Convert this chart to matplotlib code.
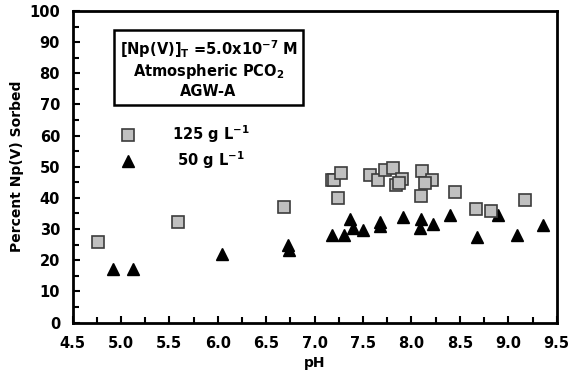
import numpy as np
import matplotlib
matplotlib.use('Agg')
import matplotlib.pyplot as plt

plt.rcParams['font.family'] = ['DejaVu Sans']
plt.rcParams['font.weight'] = 'bold'
plt.rcParams['mathtext.default'] = 'bf'

# 125 g/L series
ph_125 = [4.76, 5.59, 6.68, 7.18, 7.20, 7.27, 7.24, 7.57, 7.65, 7.73, 7.81,
          7.90, 7.84, 7.87, 8.11, 8.21, 8.14, 8.10, 8.45, 8.67, 8.82, 9.17]
pct_125 = [25.9, 32.4, 37.1, 45.6, 45.9, 48.1, 39.9, 47.2, 45.6, 48.8, 49.6,
           46.0, 44.3, 44.7, 48.6, 45.8, 44.7, 40.6, 41.8, 36.3, 35.8, 39.4]

# 50 g/L series
ph_50 = [4.92, 5.12, 6.04, 6.72, 6.74, 7.18, 7.30, 7.37, 7.40, 7.50, 7.67,
         7.67, 7.91, 8.10, 8.09, 8.22, 8.40, 8.68, 8.89, 9.09, 9.36]
pct_50 = [17.2, 17.1, 21.9, 24.8, 23.4, 28.0, 28.0, 33.1, 30.4, 29.6, 32.3,
          30.9, 33.8, 33.1, 30.4, 31.5, 34.4, 27.3, 34.4, 28.2, 31.2]

fig = plt.figure(figsize=(5.71, 3.79), dpi=100)
ax = fig.add_axes([0.127, 0.149, 0.848, 0.822])

ax.plot(ph_50, pct_50, linestyle='none', marker='^', markersize=8.5,
        color='black', markeredgewidth=1, label=r' 50 g L$^{-1}$')
ax.plot(ph_125, pct_125, linestyle='none', marker='s', markersize=8.7,
        markerfacecolor='#c0c0c0', markeredgecolor='#3c3c3c',
        markeredgewidth=1.2, label=r'125 g L$^{-1}$')

ax.set_xlim(4.5, 9.5)
ax.set_ylim(0, 100)
ax.set_xticks(np.arange(4.5, 9.51, 0.5))
ax.set_xticks(np.arange(4.5, 9.51, 0.25), minor=True)
ax.set_yticks(np.arange(0, 101, 10))
ax.set_yticks(np.arange(0, 101, 5), minor=True)
ax.set_xticklabels([f'{v:.1f}' for v in np.arange(4.5, 9.51, 0.5)])

ax.tick_params(which='both', direction='in', width=1.5, labelsize=10.5)
ax.tick_params(which='major', length=5)
ax.tick_params(which='minor', length=4)
ax.tick_params(axis='x', which='major', pad=10)
ax.tick_params(axis='y', which='major', pad=9)
for s in ax.spines.values():
    s.set_linewidth(2)

ax.set_xlabel('pH', fontsize=10, fontweight='bold', labelpad=3)
ax.set_ylabel('Percent Np(V) Sorbed', fontsize=10, fontweight='bold', labelpad=4)

# 条件说明框
ax.text(0.281, 0.816,
        '[Np(V)]$_T$ =5.0x10$^{-7}$ M\nAtmospheric PCO$_2$\nAGW-A',
        transform=ax.transAxes, ha='center', va='center', fontsize=10.5,
        fontweight='bold', linespacing=1.2,
        bbox=dict(boxstyle='square,pad=0.4', facecolor='white',
                  edgecolor='black', linewidth=1.8))

handles, labels = ax.get_legend_handles_labels()
ax.legend(handles[::-1], labels[::-1], loc='upper left',
          bbox_to_anchor=(0.0916, 0.64), frameon=False, fontsize=10.5,
          handletextpad=2.3, labelspacing=0.32, handlelength=1.5,
          borderpad=0, borderaxespad=0)

fig.savefig('out.png', dpi=100)
